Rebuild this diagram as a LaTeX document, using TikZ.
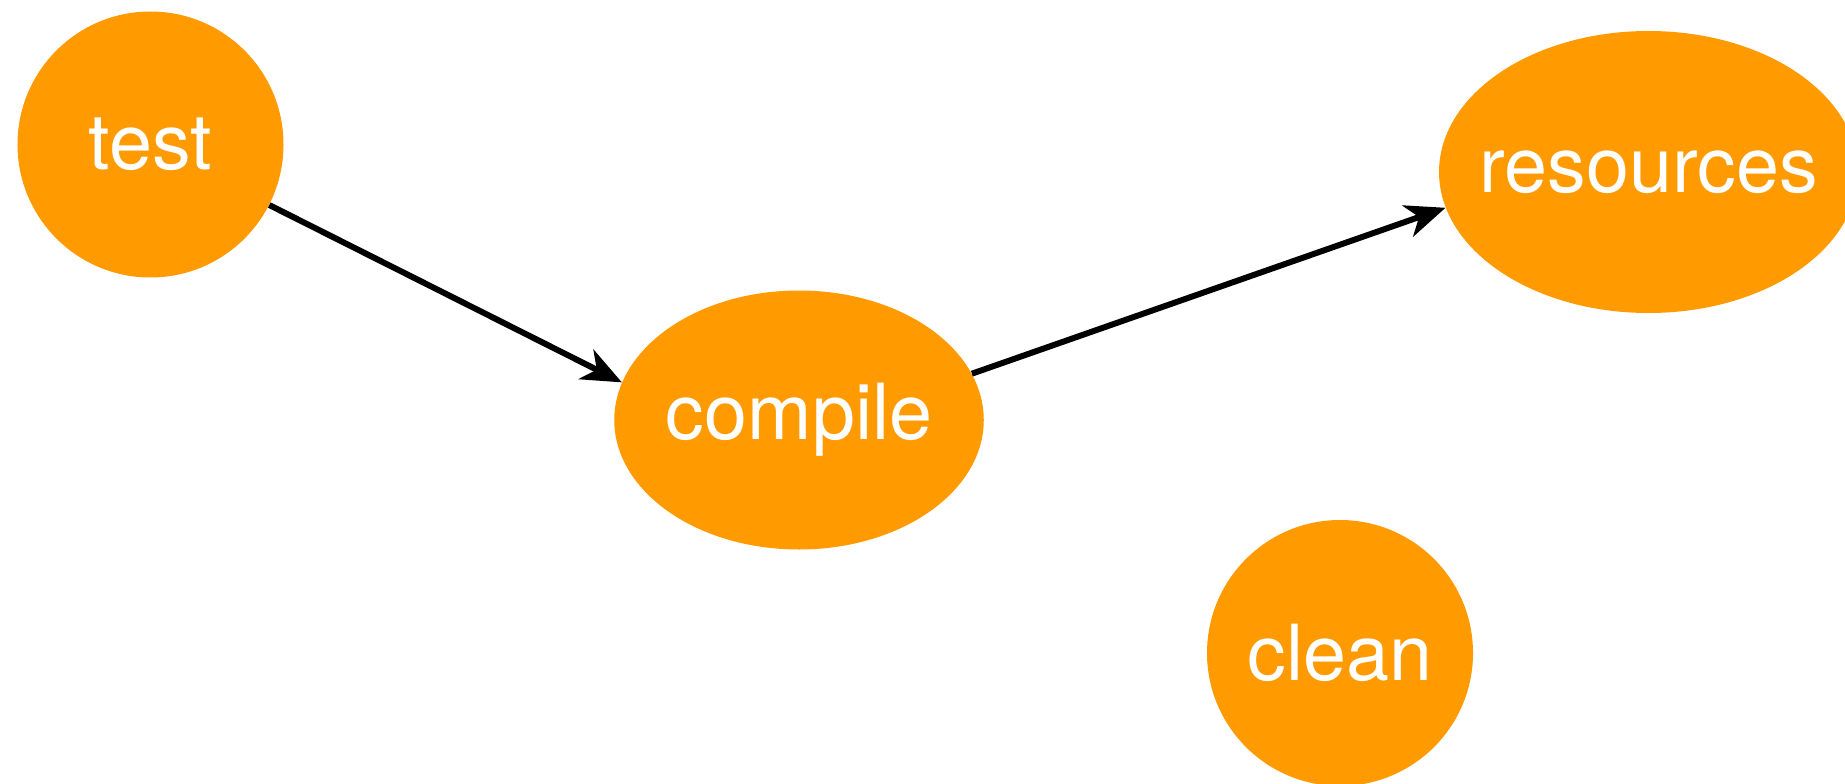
\documentclass[tikz,border=0pt]{standalone}
\usepackage{fontspec}
\setmainfont{TeX Gyre Heros}
\usepackage{tikz}
\usetikzlibrary{
  arrows.meta,
  shapes.geometric,
}
\definecolor{task}{HTML}{FF9A00}
\tikzset{
  >={Stealth[length=0.8cm, width=0.66cm, inset=0.24cm]},
  font=\fontsize{44}{52}\selectfont,
  every node/.append style={text=white},
  goal/.style={
    shape=circle,
    fill=task,
    inner sep=0pt,
    minimum size=5.32cm,
  },
  goalwide/.style 2 args={
    shape=ellipse,
    fill=task,
    inner xsep=-1cm,
    inner ysep=0pt,
    minimum width=#1,
    minimum height=#2,
  },
  dep/.style={->, black, line width=3.4pt},
}

\begin{document}
\begin{tikzpicture}[x=1cm,y=1cm]
  \useasboundingbox (0,0) rectangle (36.9,15.66);

  % tasks
  \node[goal] (test) at (3.01,12.77) {test};
  \node[goalwide={7.39cm}{5.18cm}] (compile) at (15.98,7.26) {compile};
  \node[goalwide={8.38cm}{5.64cm}] (resources) at (32.97,12.22) {resources};
  \node[goal] (clean) at (26.80,2.60) {clean};

  % dependencies
  \draw[dep] (test.-27) -- (compile.168);
  \draw[dep] (compile.15) -- (resources.190);
\end{tikzpicture}
\end{document}
